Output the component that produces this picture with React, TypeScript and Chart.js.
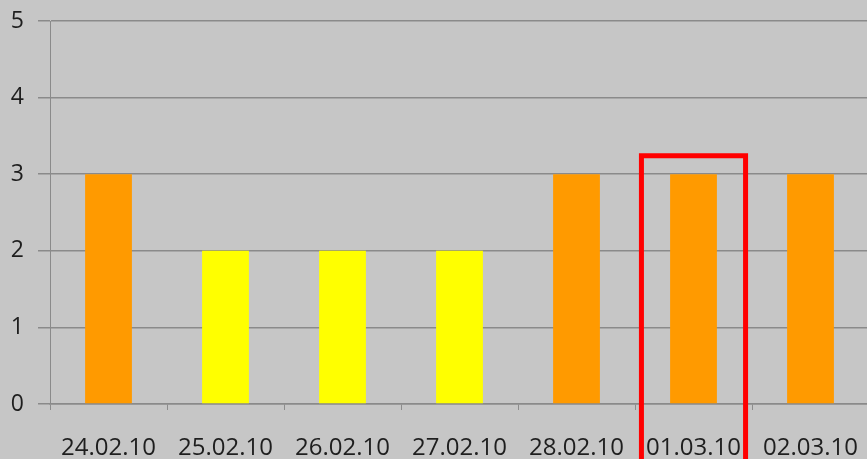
import React, { useEffect, useRef } from "react";
import { Chart, registerables } from "chart.js";

Chart.register(...registerables);

const categories = ["24.02.10", "25.02.10", "26.02.10", "27.02.10", "28.02.10", "01.03.10", "02.03.10"];
const values = [3, 2, 2, 2, 3, 3, 3];
const yTicks = [0, 1, 2, 3, 4, 5];
const highlightIndex = 5;
const highlightTop = 3.24;

const ORANGE = "#ff9a00";
const YELLOW = "#ffff00";
const BG = "#c6c6c6";

const bgPlugin = {
  id: "bgFill",
  beforeDraw(chart: any) {
    const { ctx, width, height } = chart;
    ctx.save();
    ctx.fillStyle = BG;
    ctx.fillRect(0, 0, width, height);
    ctx.restore();
  },
};

const highlightPlugin = {
  id: "highlightBox",
  afterDraw(chart: any) {
    const x = chart.scales.x;
    const y = chart.scales.y;
    const cx = x.getPixelForValue(highlightIndex);
    const catW = x.width / categories.length;
    const half = catW * 0.445;
    const top = y.getPixelForValue(highlightTop);
    const ctx = chart.ctx;
    ctx.save();
    ctx.strokeStyle = "#ff0000";
    ctx.lineWidth = 5;
    ctx.beginPath();
    ctx.moveTo(cx - half, chart.height + 10);
    ctx.lineTo(cx - half, top);
    ctx.lineTo(cx + half, top);
    ctx.lineTo(cx + half, chart.height + 10);
    ctx.stroke();
    ctx.restore();
  },
};

export default function App() {
  const ref = useRef<HTMLCanvasElement>(null);
  useEffect(() => {
    if (!ref.current) return;
    const chart = new Chart(ref.current, {
      type: "bar",
      data: {
        labels: categories,
        datasets: [
          {
            data: values,
            backgroundColor: values.map((v) => (v >= 3 ? ORANGE : YELLOW)),
            barPercentage: 0.4,
            categoryPercentage: 1,
          },
        ],
      },
      options: {
        responsive: false,
        animation: false,
        layout: { padding: { top: 21, right: 0, left: 0, bottom: 0 } },
        plugins: { legend: { display: false }, tooltip: { enabled: false }, title: { display: false } },
        scales: {
          x: {
            grid: {
              drawOnChartArea: false,
              drawTicks: true,
              tickLength: 6,
              color: "#8c8c8c",
            },
            border: { display: true, color: "#8a8a8a", width: 1.5 },
            ticks: {
              color: "#1e1e1e",
              font: { family: "'Open Sans'", size: 24 },
              padding: 24,
              maxRotation: 0,
              autoSkip: false,
            },
            afterFit(scale: any) {
              scale.height = 55;
              scale.paddingLeft = 0;
              scale.paddingRight = 0;
            },
          },
          y: {
            min: 0,
            max: 5,
            afterBuildTicks(scale: any) {
              scale.ticks = yTicks.map((v) => ({ value: v }));
            },
            grid: {
              color: "#8a8a8a",
              lineWidth: 1.5,
              tickLength: 12,
              drawTicks: true,
            },
            border: { display: true, color: "#8a8a8a", width: 1 },
            ticks: {
              color: "#1e1e1e",
              font: { family: "'Open Sans'", size: 23 },
              padding: 14,
            },
            afterFit(scale: any) {
              scale.width = 50;
              scale.paddingTop = 0;
              scale.paddingBottom = 0;
            },
          },
        },
      },
      plugins: [bgPlugin, highlightPlugin],
    });
    return () => chart.destroy();
  }, []);
  return (
    <div style={{ position: "fixed", left: 0, top: 0, width: 867, height: 459, overflow: "hidden", background: BG }}>
      <canvas ref={ref} width={869} height={459} style={{ display: "block" }} />
    </div>
  );
}
